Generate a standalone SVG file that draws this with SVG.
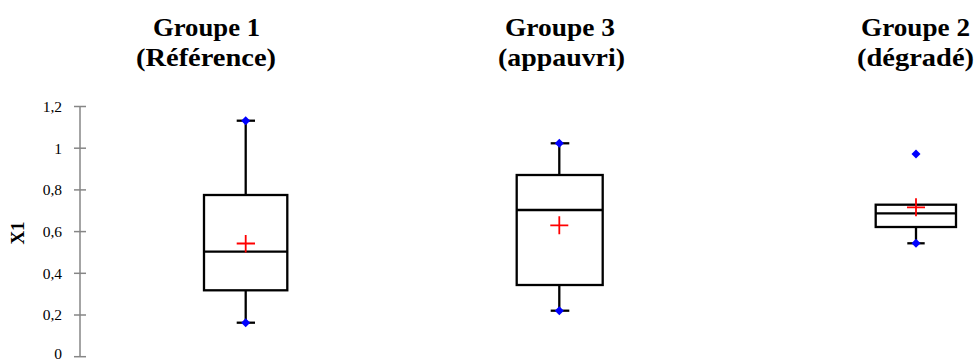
<svg xmlns="http://www.w3.org/2000/svg" width="977" height="361" viewBox="0 0 977 361">
<style>
.title{font-family:"Liberation Serif","DejaVu Serif",serif;font-weight:bold;font-size:26px;fill:#000;text-anchor:middle}
.tick{font-family:"Liberation Serif","DejaVu Serif",serif;font-size:15.5px;fill:#000;text-anchor:end}
.axis{stroke:#868686;stroke-width:1.5;fill:none}
.box{stroke:#000;stroke-width:2.3;fill:#fff}
.wh{stroke:#000;stroke-width:2.3;fill:none}
.mean{stroke:#ff0000;stroke-width:1.8;fill:none}
.pt{fill:#0000ff}
</style>
<defs>
<path id="dia" d="M0,-4.5 L4.5,0 L0,4.5 L-4.5,0 Z"/>
</defs>
<rect width="977" height="361" fill="#fff"/>
<g id="axis">
<line class="axis" x1="80" y1="106" x2="80" y2="356.7"/>
<g class="axis">
<line x1="74" y1="106.5" x2="86" y2="106.5"/>
<line x1="74" y1="148.2" x2="86" y2="148.2"/>
<line x1="74" y1="189.9" x2="86" y2="189.9"/>
<line x1="74" y1="231.6" x2="86" y2="231.6"/>
<line x1="74" y1="273.3" x2="86" y2="273.3"/>
<line x1="74" y1="315" x2="86" y2="315"/>
<line x1="74" y1="356.7" x2="86" y2="356.7"/>
</g>
<text class="tick" x="62" y="111.8">1,2</text>
<text class="tick" x="62" y="153.5">1</text>
<text class="tick" x="62" y="195.2">0,8</text>
<text class="tick" x="62" y="236.9">0,6</text>
<text class="tick" x="62" y="278.6">0,4</text>
<text class="tick" x="62" y="320.3">0,2</text>
<text class="tick" x="62" y="359.3">0</text>
<text x="0" y="0" transform="translate(23.5,233) rotate(-90)" style="font-family:'Liberation Serif','DejaVu Serif',serif;font-weight:bold;font-size:19px;text-anchor:middle">X1</text>
</g>
<g id="group1">
<text class="title" x="206.5" y="36" textLength="107" lengthAdjust="spacingAndGlyphs">Groupe 1</text>
<text class="title" x="206" y="66" textLength="140" lengthAdjust="spacingAndGlyphs">(Référence)</text>
<line class="wh" x1="245.7" y1="120.7" x2="245.7" y2="195"/>
<line class="wh" x1="245.7" y1="290.3" x2="245.7" y2="322.7"/>
<line class="wh" x1="236.7" y1="120.7" x2="255" y2="120.7"/>
<line class="wh" x1="236.7" y1="322.7" x2="255" y2="322.7"/>
<rect class="box" x="204" y="195" width="83.3" height="95.3"/>
<line class="wh" x1="204" y1="251.7" x2="287.3" y2="251.7"/>
<path class="mean" d="M236.7,243.5 H255 M245.7,235 V252.5"/>
<use href="#dia" class="pt" x="245.7" y="120.7"/>
<use href="#dia" class="pt" x="245.7" y="322.7"/>
</g>
<g id="group3">
<text class="title" x="560" y="36" textLength="110" lengthAdjust="spacingAndGlyphs">Groupe 3</text>
<text class="title" x="561.5" y="66" textLength="127" lengthAdjust="spacingAndGlyphs">(appauvri)</text>
<line class="wh" x1="559.3" y1="143.3" x2="559.3" y2="175"/>
<line class="wh" x1="559.3" y1="285" x2="559.3" y2="310.7"/>
<line class="wh" x1="550.7" y1="143.3" x2="569.3" y2="143.3"/>
<line class="wh" x1="550.7" y1="310.7" x2="569.3" y2="310.7"/>
<rect class="box" x="516.7" y="175" width="86" height="110"/>
<line class="wh" x1="516.7" y1="210" x2="602.7" y2="210"/>
<path class="mean" d="M550.3,225.3 H568.3 M559.3,216.3 V234.3"/>
<use href="#dia" class="pt" x="559.3" y="143.3"/>
<use href="#dia" class="pt" x="559.3" y="310.7"/>
</g>
<g id="group2">
<text class="title" x="915.5" y="36" textLength="109" lengthAdjust="spacingAndGlyphs">Groupe 2</text>
<text class="title" x="915.5" y="66" textLength="117" lengthAdjust="spacingAndGlyphs">(dégradé)</text>
<line class="wh" x1="916" y1="227" x2="916" y2="243.3"/>
<line class="wh" x1="907.3" y1="243.3" x2="924.7" y2="243.3"/>
<rect class="box" x="875.7" y="204.7" width="80.3" height="22.3"/>
<line class="wh" x1="875.7" y1="213.3" x2="956" y2="213.3"/>
<path class="mean" d="M907,207.3 H925 M916,198.3 V216.3"/>
<use href="#dia" class="pt" x="916" y="154"/>
<use href="#dia" class="pt" x="916" y="243.3"/>
</g>
</svg>
